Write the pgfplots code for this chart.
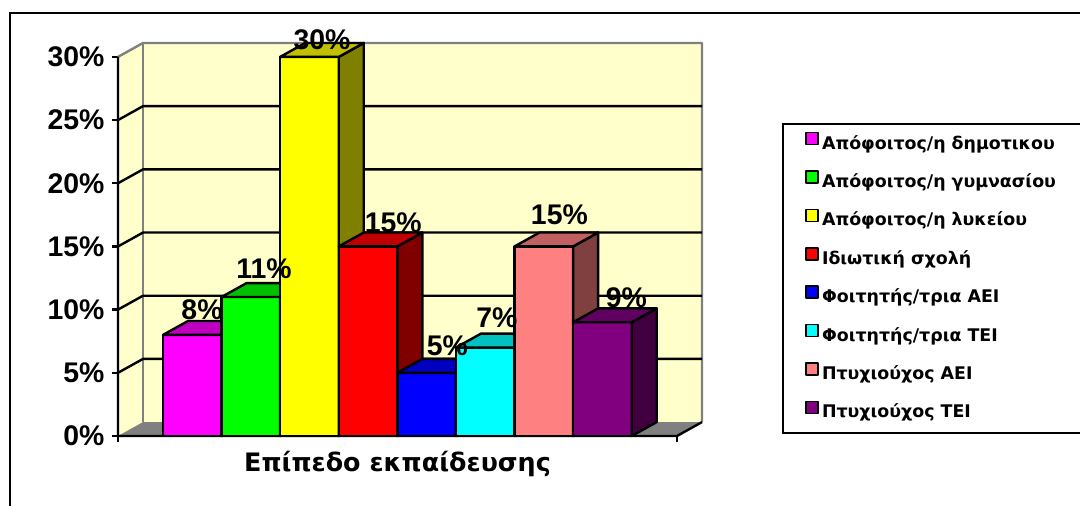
\documentclass[border=0pt]{standalone}
\usepackage{fontspec}
\setmainfont{Liberation Sans}
\newfontfamily\grk{DejaVu Sans}
\usepackage{pgfplots}
\pgfplotsset{compat=1.18}
\definecolor{wallyellow}{HTML}{FFFFCC}
\definecolor{floorgray}{HTML}{808080}
\definecolor{cMagF}{HTML}{FF00FF}\definecolor{cMagT}{HTML}{C000C0}\definecolor{cMagS}{HTML}{800080}
\definecolor{cGrnF}{HTML}{00FF00}\definecolor{cGrnT}{HTML}{00C000}\definecolor{cGrnS}{HTML}{008000}
\definecolor{cYelF}{HTML}{FFFF00}\definecolor{cYelT}{HTML}{C0C000}\definecolor{cYelS}{HTML}{808000}
\definecolor{cRedF}{HTML}{FF0000}\definecolor{cRedT}{HTML}{C00000}\definecolor{cRedS}{HTML}{800000}
\definecolor{cBluF}{HTML}{0000FF}\definecolor{cBluT}{HTML}{0000C0}\definecolor{cBluS}{HTML}{000080}
\definecolor{cCyaF}{HTML}{00FFFF}\definecolor{cCyaT}{HTML}{00C0C0}\definecolor{cCyaS}{HTML}{008080}
\definecolor{cPnkF}{HTML}{FF8080}\definecolor{cPnkT}{HTML}{C06060}\definecolor{cPnkS}{HTML}{804040}
\definecolor{cPurF}{HTML}{800080}\definecolor{cPurT}{HTML}{600060}\definecolor{cPurS}{HTML}{400040}
\begin{document}
\begin{tikzpicture}
\path[use as bounding box] (0,0) rectangle (540pt,253pt);
\begin{axis}[
  at={(59pt,35pt)}, anchor=south west,
  scale only axis, width=292pt, height=196.5pt,
  xmin=-0.768, xmax=9.2, ymin=0, ymax=31.1,
  clip=false,
  axis line style={draw=none},
  xtick={-0.768,8.773}, xticklabels={},
  ytick={0,5,...,30},
  tick pos=left, tick align=outside,
  major tick length=3.25pt,
  tick style={black, line width=1.2pt},
  /pgf/number format/assume math mode=true,
  yticklabel={\pgfmathprintnumber{\tick}\%},
  yticklabel style={font=\fontsize{14.2pt}{16pt}\selectfont\bfseries},
  xlabel={Επίπεδο εκπαίδευσης},
  xlabel style={at={(axis description cs:0.4786,-0.0916)}, anchor=base, font=\grk\fontsize{12.7pt}{14pt}\selectfont\bfseries, inner sep=0pt},
  legend cell align=left,
  legend style={at={(axis description cs:1.1764,0.7748)}, anchor=north west, draw=none, fill=none, inner sep=0pt, row sep=8.55pt, column sep=1.5pt, font=\grk\fontsize{8.7pt}{10pt}\selectfont\bfseries, nodes={inner sep=0pt, text height=6.5pt, text depth=2pt}},
  legend image code/.code={\draw[#1, draw=black, line width=0.8pt] (0pt,0pt) rectangle (6pt,6pt);},
  every axis plot/.append style={line join=round},
]
% walls
\addplot[fill=wallyellow, draw=none, forget plot] coordinates {(-0.341,1.1) (9.2,1.1) (9.2,31.1) (-0.341,31.1)} -- cycle;
\addplot[fill=wallyellow, draw=none, forget plot] coordinates {(-0.768,0) (-0.341,1.1) (-0.341,31.1) (-0.768,30)} -- cycle;
\addplot[fill=floorgray, draw=none, forget plot] coordinates {(-0.768,0) (8.773,0) (9.2,1.1) (-0.341,1.1)} -- cycle;
\addplot[floorgray, line width=1.2pt, forget plot] coordinates {(-0.768,30) (-0.341,31.1) (9.2,31.1) (9.2,1.1)};
\addplot[floorgray, line width=1.2pt, forget plot] coordinates {(-0.341,1.1) (-0.341,31.1)};
% gridlines
\addplot[black, line width=1.2pt, forget plot] coordinates {(-0.768,5) (-0.341,6.1) (9.2,6.1)};
\addplot[black, line width=1.2pt, forget plot] coordinates {(-0.768,10) (-0.341,11.1) (9.2,11.1)};
\addplot[black, line width=1.2pt, forget plot] coordinates {(-0.768,15) (-0.341,16.1) (9.2,16.1)};
\addplot[black, line width=1.2pt, forget plot] coordinates {(-0.768,20) (-0.341,21.1) (9.2,21.1)};
\addplot[black, line width=1.2pt, forget plot] coordinates {(-0.768,25) (-0.341,26.1) (9.2,26.1)};
% axis lines
\addplot[black, line width=1.2pt, forget plot] coordinates {(-0.768,30) (-0.768,0) (8.773,0) (9.2,1.1)};
% bars
\addplot[fill=cMagF, draw=black, line width=1.2pt] coordinates {(0,0) (1,0) (1,8) (0,8)} -- cycle;
\addlegendentry{Απόφοιτος/η δημοτικου}
\addplot[fill=cMagS, draw=black, line width=1.2pt, forget plot] coordinates {(1,0) (1.427,1.1) (1.427,9.1) (1,8)} -- cycle;
\addplot[fill=cMagT, draw=black, line width=1.2pt, forget plot] coordinates {(0,8) (0.427,9.1) (1.427,9.1) (1,8)} -- cycle;
\addplot[fill=cGrnF, draw=black, line width=1.2pt] coordinates {(1,0) (2,0) (2,11) (1,11)} -- cycle;
\addlegendentry{Απόφοιτος/η γυμνασίου}
\addplot[fill=cGrnS, draw=black, line width=1.2pt, forget plot] coordinates {(2,0) (2.427,1.1) (2.427,12.1) (2,11)} -- cycle;
\addplot[fill=cGrnT, draw=black, line width=1.2pt, forget plot] coordinates {(1,11) (1.427,12.1) (2.427,12.1) (2,11)} -- cycle;
\addplot[fill=cYelF, draw=black, line width=1.2pt] coordinates {(2,0) (3,0) (3,30) (2,30)} -- cycle;
\addlegendentry{Απόφοιτος/η λυκείου}
\addplot[fill=cYelS, draw=black, line width=1.2pt, forget plot] coordinates {(3,0) (3.427,1.1) (3.427,31.1) (3,30)} -- cycle;
\addplot[fill=cYelT, draw=black, line width=1.2pt, forget plot] coordinates {(2,30) (2.427,31.1) (3.427,31.1) (3,30)} -- cycle;
\addplot[fill=cRedF, draw=black, line width=1.2pt] coordinates {(3,0) (4,0) (4,15) (3,15)} -- cycle;
\addlegendentry{Ιδιωτική σχολή}
\addplot[fill=cRedS, draw=black, line width=1.2pt, forget plot] coordinates {(4,0) (4.427,1.1) (4.427,16.1) (4,15)} -- cycle;
\addplot[fill=cRedT, draw=black, line width=1.2pt, forget plot] coordinates {(3,15) (3.427,16.1) (4.427,16.1) (4,15)} -- cycle;
\addplot[fill=cBluF, draw=black, line width=1.2pt] coordinates {(4,0) (5,0) (5,5) (4,5)} -- cycle;
\addlegendentry{Φοιτητής/τρια ΑΕΙ}
\addplot[fill=cBluS, draw=black, line width=1.2pt, forget plot] coordinates {(5,0) (5.427,1.1) (5.427,6.1) (5,5)} -- cycle;
\addplot[fill=cBluT, draw=black, line width=1.2pt, forget plot] coordinates {(4,5) (4.427,6.1) (5.427,6.1) (5,5)} -- cycle;
\addplot[fill=cCyaF, draw=black, line width=1.2pt] coordinates {(5,0) (6,0) (6,7) (5,7)} -- cycle;
\addlegendentry{Φοιτητής/τρια ΤΕΙ}
\addplot[fill=cCyaS, draw=black, line width=1.2pt, forget plot] coordinates {(6,0) (6.427,1.1) (6.427,8.1) (6,7)} -- cycle;
\addplot[fill=cCyaT, draw=black, line width=1.2pt, forget plot] coordinates {(5,7) (5.427,8.1) (6.427,8.1) (6,7)} -- cycle;
\addplot[fill=cPnkF, draw=black, line width=1.2pt] coordinates {(6,0) (7,0) (7,15) (6,15)} -- cycle;
\addlegendentry{Πτυχιούχος ΑΕΙ}
\addplot[fill=cPnkS, draw=black, line width=1.2pt, forget plot] coordinates {(7,0) (7.427,1.1) (7.427,16.1) (7,15)} -- cycle;
\addplot[fill=cPnkT, draw=black, line width=1.2pt, forget plot] coordinates {(6,15) (6.427,16.1) (7.427,16.1) (7,15)} -- cycle;
\addplot[fill=cPurF, draw=black, line width=1.2pt] coordinates {(7,0) (8,0) (8,9) (7,9)} -- cycle;
\addlegendentry{Πτυχιούχος ΤΕΙ}
\addplot[fill=cPurS, draw=black, line width=1.2pt, forget plot] coordinates {(8,0) (8.427,1.1) (8.427,10.1) (8,9)} -- cycle;
\addplot[fill=cPurT, draw=black, line width=1.2pt, forget plot] coordinates {(7,9) (7.427,10.1) (8.427,10.1) (8,9)} -- cycle;
% data labels
\addplot[draw=none, mark=none, forget plot, point meta=explicit,
  nodes near coords={\pgfmathprintnumber{\pgfplotspointmeta}\%},
  every node near coord/.append style={anchor=base, inner sep=0pt, font=\fontsize{14.2pt}{16pt}\selectfont\bfseries}]
  table[meta=m] {
x y m
0.666 9.18 8
1.724 12.5 11
2.713 30.6 30
3.93 16.14 15
4.855 6.4 5
5.70 8.62 7
6.766 16.7 15
7.91 10.13 9
};
\end{axis}
\draw[line width=1.2pt] (5pt,-5pt) -- (5pt,246.5pt) -- (545pt,246.5pt);
\draw[line width=1.2pt] (545pt,191pt) -- (391.5pt,191pt) -- (391.5pt,36.5pt) -- (545pt,36.5pt);
\end{tikzpicture}
\end{document}
